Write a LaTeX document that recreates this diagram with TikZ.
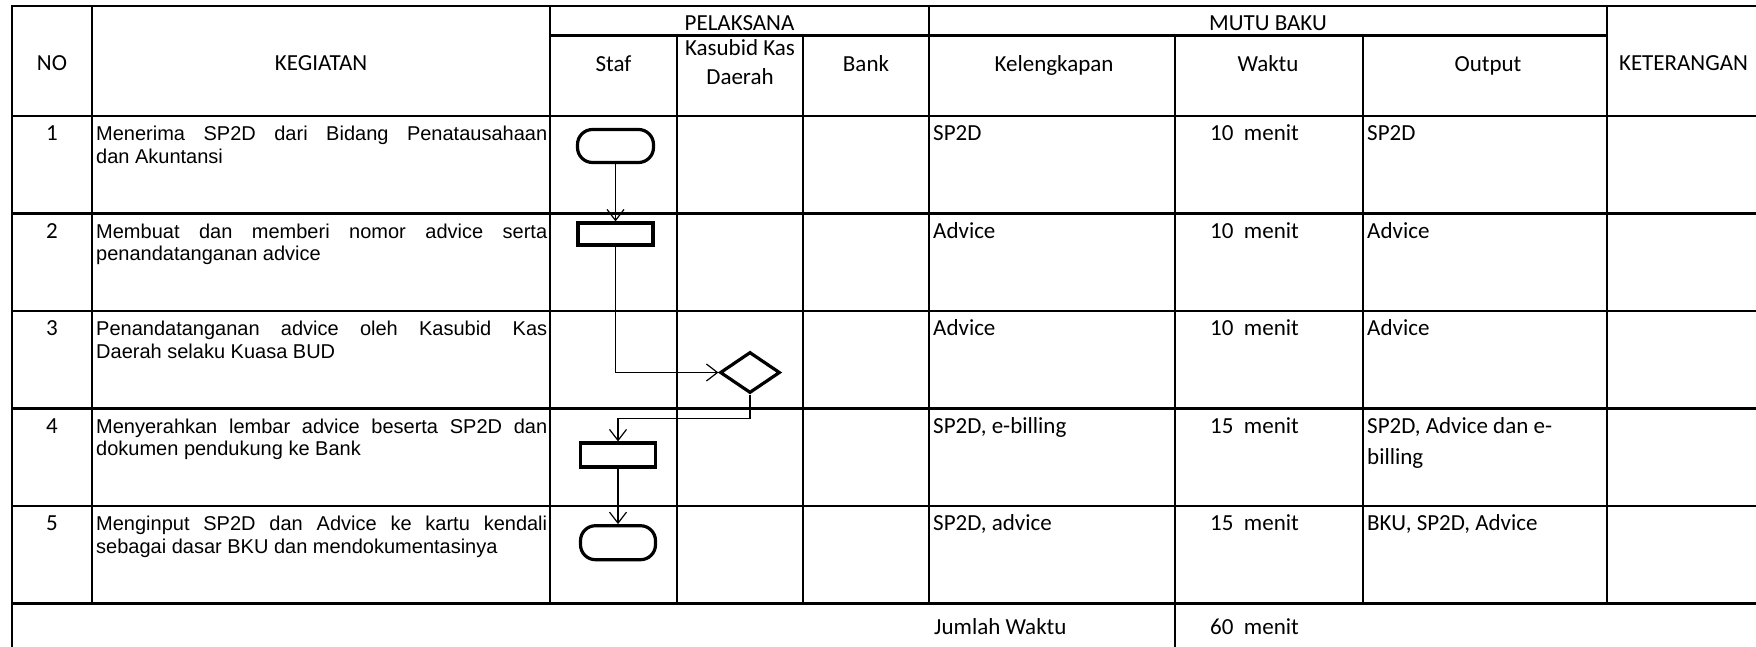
\documentclass[tikz,border=0pt]{standalone}
\usepackage{fontspec}
\setmainfont{Carlito}
\newfontfamily\arialf{Liberation Sans}
\usetikzlibrary{shapes.geometric,arrows.meta}
\newcommand{\jline}[1]{\makebox[451pt][s]{#1}}
\begin{document}
\begin{tikzpicture}[x=1pt,y=-1pt,
 grid/.style={line width=2.6pt},
 hdr/.style={inner sep=0pt,anchor=base,font=\fontsize{23}{29}\selectfont,align=center},
 cal/.style={inner sep=0pt,anchor=base west,font=\fontsize{23}{31}\selectfont,align=left},
 ari/.style={inner sep=0pt,anchor=base west,font=\arialf\fontsize{20}{22.5}\selectfont,align=left},
 num/.style={inner sep=0pt,anchor=base,font=\fontsize{23}{29}\selectfont},
 term/.style={draw,line width=3.2pt,rounded corners=15pt,minimum width=76pt,minimum height=33pt,inner sep=0pt},
 proc/.style={draw,line width=3.2pt,minimum width=75pt,minimum height=22pt,inner sep=0pt},
 dec/.style={draw,diamond,line width=3.2pt,minimum width=60pt,minimum height=41pt,inner sep=0pt},
 flow/.style={line width=1.2pt,-{Straight Barb[length=11pt,width=17pt,line width=1.2pt]}}]
\useasboundingbox (0,0) rectangle (1756,646);
\clip (0,0) rectangle (1756,646);
% grid
\draw[grid] (1800,6) -- (12,6) -- (12,700);
\draw[grid] (550,35.5) -- (1607,35.5);
\foreach \y in {116,213.5,311,408.5,506,603.5} \draw[grid] (12,\y) -- (1800,\y);
\foreach \x in {92,550,929,1607} \draw[grid] (\x,6) -- (\x,603.5);
\foreach \x in {677,803,1363} \draw[grid] (\x,35.5) -- (\x,603.5);
\draw[grid] (1175,35.5) -- (1175,700);
% header (multi-line nodes: base anchor = last line)
\node[hdr] (hno) at (52,70.5) {NO};
\node[hdr] (hkeg) at (321,70.5) {KEGIATAN};
\node[hdr] (hpel) at (739.5,30) {PELAKSANA};
\node[hdr] (hmutu) at (1268,30) {MUTU BAKU};
\node[hdr] (hket) at (1683.5,70.5) {KETERANGAN};
\node[hdr] (hstaf) at (613.5,71.5) {Staf};
\node[hdr] (hkas) at (740,84) {Kasubid Kas\\Daerah};
\node[hdr] (hbank) at (866,71.5) {Bank};
\node[hdr] (hkel) at (1054,71.5) {Kelengkapan};
\node[hdr] (hwak) at (1268,71.5) {Waktu};
\node[hdr] (hout) at (1488,71.5) {Output};
% numbers
\node[num] (n1) at (52,140.7) {1};
\node[num] (n2) at (52,238.2) {2};
\node[num] (n3) at (52,335.7) {3};
\node[num] (n4) at (52,433.2) {4};
\node[num] (n5) at (52,530.7) {5};
% kegiatan
\node[ari] (k1) at (96,163.2) {\jline{Menerima SP2D dari Bidang Penatausahaan}\\dan Akuntansi};
\node[ari] (k2) at (96,260.7) {\jline{Membuat dan memberi nomor advice serta}\\penandatanganan advice};
\node[ari] (k3) at (96,358.2) {\jline{Penandatanganan advice oleh Kasubid Kas}\\Daerah selaku Kuasa BUD};
\node[ari] (k4) at (96,455.7) {\jline{Menyerahkan lembar advice beserta SP2D dan}\\dokumen pendukung ke Bank};
\node[ari] (k5) at (96,553.2) {\jline{Menginput SP2D dan Advice ke kartu kendali}\\sebagai dasar BKU dan mendokumentasinya};
% kelengkapan
\node[cal] (l1) at (933,140.7) {SP2D};
\node[cal] (l2) at (933,238.2) {Advice};
\node[cal] (l3) at (933,335.7) {Advice};
\node[cal] (l4) at (933,433.2) {SP2D, e-billing};
\node[cal] (l5) at (933,530.7) {SP2D, advice};
% waktu
\node[cal] (w1) at (1210,140.7) {10\ \ menit};
\node[cal] (w2) at (1210,238.2) {10\ \ menit};
\node[cal] (w3) at (1210,335.7) {10\ \ menit};
\node[cal] (w4) at (1210,433.2) {15\ \ menit};
\node[cal] (w5) at (1210,530.7) {15\ \ menit};
% output
\node[cal] (o1) at (1367,140.7) {SP2D};
\node[cal] (o2) at (1367,238.2) {Advice};
\node[cal] (o3) at (1367,335.7) {Advice};
\node[cal] (o4) at (1367,464.2) {SP2D, Advice dan e-\\billing};
\node[cal] (o5) at (1367,530.7) {BKU, SP2D, Advice};
% jumlah
\node[cal] (jw) at (934,634) {Jumlah Waktu};
\node[cal] (jt) at (1210,634) {60\ \ menit};
% flowchart
\node[term] (t1) at (615.5,146) {};
\node[proc] (p2) at (615.5,234) {};
\node[dec] (d3) at (750,372.5) {};
\node[proc,minimum height=24pt] (p4) at (618,455) {};
\node[term,minimum width=75pt,minimum height=34pt] (t5) at (618,542.7) {};
\draw[flow] (t1) -- (p2);
\draw[flow] (p2.south) |- (d3.west);
\draw[flow] (d3.south) -- ++(0,24) -| (p4.north);
\draw[flow] (p4) -- (t5);
\end{tikzpicture}
\end{document}
